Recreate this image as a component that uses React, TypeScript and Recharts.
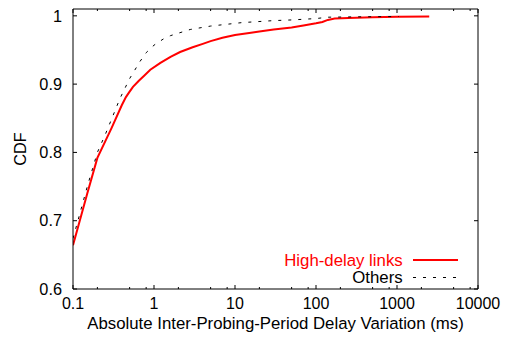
import React from "react"
import {
  LineChart,
  Line,
  XAxis,
  YAxis,
  Legend,
  Label,
} from "recharts"

// CDF of high-delay links (red, solid)
const highDelay = [
  { x: 0.1, y: 0.664 },
  { x: 0.15, y: 0.74 },
  { x: 0.2, y: 0.792 },
  { x: 0.3, y: 0.836 },
  { x: 0.4, y: 0.869 },
  { x: 0.45, y: 0.881 },
  { x: 0.5, y: 0.889 },
  { x: 0.55, y: 0.896 },
  { x: 0.65, y: 0.905 },
  { x: 0.75, y: 0.912 },
  { x: 0.9, y: 0.921 },
  { x: 1.2, y: 0.931 },
  { x: 1.6, y: 0.94 },
  { x: 2.1, y: 0.947 },
  { x: 3, y: 0.954 },
  { x: 4, y: 0.959 },
  { x: 5, y: 0.963 },
  { x: 7, y: 0.968 },
  { x: 10, y: 0.972 },
  { x: 15, y: 0.975 },
  { x: 20, y: 0.977 },
  { x: 30, y: 0.98 },
  { x: 50, y: 0.983 },
  { x: 70, y: 0.986 },
  { x: 100, y: 0.989 },
  { x: 120, y: 0.991 },
  { x: 140, y: 0.994 },
  { x: 170, y: 0.996 },
  { x: 250, y: 0.997 },
  { x: 500, y: 0.998 },
  { x: 1000, y: 0.9985 },
  { x: 2500, y: 0.999 },
]

// CDF of the other links (black, dashed)
const others = [
  { x: 0.1, y: 0.674 },
  { x: 0.15, y: 0.75 },
  { x: 0.2, y: 0.8 },
  { x: 0.25, y: 0.826 },
  { x: 0.3, y: 0.849 },
  { x: 0.38, y: 0.879 },
  { x: 0.5, y: 0.908 },
  { x: 0.67, y: 0.933 },
  { x: 0.8, y: 0.946 },
  { x: 1, y: 0.957 },
  { x: 1.3, y: 0.966 },
  { x: 1.6, y: 0.971 },
  { x: 2.8, y: 0.98 },
  { x: 5, y: 0.985 },
  { x: 12, y: 0.99 },
  { x: 30, y: 0.993 },
  { x: 50, y: 0.994 },
  { x: 100, y: 0.996 },
  { x: 140, y: 0.998 },
  { x: 300, y: 0.9985 },
  { x: 1050, y: 0.999 },
]

const xMajor = [0.1, 1, 10, 100, 1000, 10000]
const xMinor = [
  0.2, 0.5, 0.8, 2, 5, 8, 20, 50, 80, 200, 500, 800, 2000, 5000, 8000,
]
const xTicks = [...xMajor, ...xMinor].sort((a, b) => a - b)
const yTicks = [0.6, 0.7, 0.8, 0.9, 1]

const FONT = "'Liberation Sans', Arial, Helvetica, sans-serif"

const BottomTick = ({ x, y, payload }: any) => {
  const major = xMajor.includes(payload.value)
  return (
    <g>
      <line x1={x} x2={x} y1={y} y2={y - (major ? 4 : 2)} stroke="#000" />
      {major && (
        <text x={x} y={y + 9} dy="0.71em" textAnchor="middle" fontSize={16} fill="#000">
          {payload.value}
        </text>
      )}
    </g>
  )
}

const TopTick = ({ x, y, payload }: any) => {
  const major = xMajor.includes(payload.value)
  return <line x1={x} x2={x} y1={y} y2={y + (major ? 4 : 2)} stroke="#000" />
}

const LeftTick = ({ x, y, payload }: any) => (
  <g>
    <line x1={x} x2={x + 4} y1={y} y2={y} stroke="#000" />
    <text x={x - 11} y={y} dy="0.35em" textAnchor="end" fontSize={16.3} fill="#000">
      {payload.value}
    </text>
  </g>
)

const RightTick = ({ x, y }: any) => (
  <line x1={x} x2={x - 4} y1={y} y2={y} stroke="#000" />
)

const CdfLabel = ({ viewBox }: any) => {
  const cx = viewBox.x + 20
  const cy = viewBox.y + viewBox.height / 2
  return (
    <text
      x={cx}
      y={cy}
      dy="0.35em"
      textAnchor="middle"
      fontSize={16.3}
      fill="#000"
      transform={`rotate(-90, ${cx}, ${cy})`}
    >
      CDF
    </text>
  )
}

const XTitle = ({ viewBox }: any) => (
  <text
    x={viewBox.x + viewBox.width / 2}
    y={viewBox.y + 39.5}
    textAnchor="middle"
    fontSize={16.8}
    fill="#000"
  >
    Absolute Inter-Probing-Period Delay Variation (ms)
  </text>
)

const LegendBox = ({ payload }: any) => (
  <svg width={200} height={40} style={{ display: "block" }}>
    {(payload || []).map((e: any, i: number) => {
      const cy = 10 + i * 17.5
      const p = e.payload || {}
      return (
        <g key={e.value}>
          <text x={132.7} y={cy} dy="0.35em" textAnchor="end" fontSize={16.8} fill={e.color} fontFamily={FONT}>
            {e.value}
          </text>
          <line
            x1={143}
            x2={188}
            y1={cy}
            y2={cy}
            stroke={e.color}
            strokeWidth={p.strokeWidth || 1}
            strokeDasharray={p.strokeDasharray}
          />
        </g>
      )
    })}
  </svg>
)

export default function App() {
  return (
    <div style={{ position: "absolute", left: 0, top: 0, fontFamily: FONT, background: "#fff" }}>
      <LineChart width={511} height={343} margin={{ top: 0, right: 0, bottom: 0, left: 0 }}>
        <XAxis
          xAxisId="top"
          orientation="top"
          type="number"
          dataKey="x"
          scale="log"
          domain={[0.1, 10000]}
          allowDataOverflow
          ticks={xTicks}
          interval={0}
          height={9}
          tickSize={0}
          tickMargin={0}
          tickLine={false}
          tick={<TopTick />}
          axisLine={{ stroke: "#000" }}
        />
        <XAxis
          xAxisId="bottom"
          orientation="bottom"
          type="number"
          dataKey="x"
          scale="log"
          domain={[0.1, 10000]}
          allowDataOverflow
          ticks={xTicks}
          interval={0}
          height={54}
          tickSize={0}
          tickMargin={0}
          tickLine={false}
          tick={<BottomTick />}
          axisLine={{ stroke: "#000" }}
        >
          <Label content={<XTitle />} />
        </XAxis>
        <YAxis
          yAxisId="left"
          type="number"
          domain={[0.6, 1.01]}
          allowDataOverflow
          ticks={yTicks}
          interval={0}
          width={73}
          tickSize={0}
          tickMargin={0}
          tickLine={false}
          tick={<LeftTick />}
          axisLine={{ stroke: "#000" }}
        >
          <Label content={<CdfLabel />} />
        </YAxis>
        <YAxis
          yAxisId="right"
          orientation="right"
          type="number"
          domain={[0.6, 1.01]}
          allowDataOverflow
          ticks={yTicks}
          interval={0}
          width={33}
          tickSize={0}
          tickMargin={0}
          tickLine={false}
          tick={<RightTick />}
          axisLine={{ stroke: "#000" }}
        />
        <Legend
          layout="vertical"
          align="center"
          verticalAlign="middle"
          content={<LegendBox />}
          wrapperStyle={{ left: 270, top: 250, width: 200, height: 40 }}
        />
        <Line
          xAxisId="bottom"
          yAxisId="left"
          data={highDelay}
          dataKey="y"
          name="High-delay links"
          type="linear"
          stroke="#ff0000"
          strokeWidth={2}
          dot={false}
          activeDot={false}
          isAnimationActive={false}
        />
        <Line
          xAxisId="bottom"
          yAxisId="left"
          data={others}
          dataKey="y"
          name="Others"
          type="linear"
          stroke="#000000"
          strokeWidth={1}
          strokeDasharray="3 7"
          dot={false}
          activeDot={false}
          isAnimationActive={false}
        />
      </LineChart>
    </div>
  )
}
